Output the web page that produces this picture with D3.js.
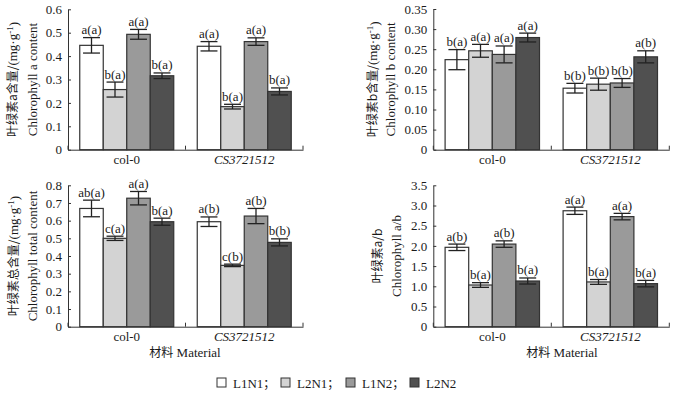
<!DOCTYPE html>
<html lang="zh">
<head>
<meta charset="UTF-8">
<title>Chlorophyll content</title>
<script src="https://d3js.org/d3.v7.min.js"></script>
<style>
  body { margin: 0; background: #fff; }
  svg { display: block; }
  text { font-family: "Liberation Serif", "Times New Roman", serif; font-size: 13px; fill: #1a1a1a; }
  .zh { font-family: "Noto Sans CJK SC", sans-serif; font-size: 12px; }
  .axis path, .axis line { stroke: #333; }
</style>
</head>
<body>
<svg id="chart" width="677" height="393"></svg>
<script>
// groups and treatments
const groups = ["col-0", "CS3721512"];
const series = ["L1N1", "L2N1", "L1N2", "L2N2"];
const colors = ["#ffffff", "#d3d3d3", "#9a9a9a", "#505050"];

// Chlorophyll a
const chlA = [[0.446, 0.257, 0.493, 0.316], [0.442, 0.184, 0.462, 0.249]];
const chlAErr = [[0.033, 0.032, 0.021, 0.012], [0.020, 0.010, 0.016, 0.015]];
const chlALetters = [["a(a)", "b(a)", "a(a)", "b(a)"], ["a(a)", "b(a)", "a(a)", "b(a)"]];
const chlATicks = ["0", "0.1", "0.2", "0.3", "0.4", "0.5", "0.6"];

// Chlorophyll b
const chlB = [[0.224, 0.246, 0.237, 0.279], [0.153, 0.163, 0.166, 0.231]];
const chlBErr = [[0.025, 0.016, 0.021, 0.011], [0.012, 0.015, 0.011, 0.015]];
const chlBLetters = [["b(a)", "a(a)", "a(a)", "a(a)"], ["b(b)", "b(b)", "b(b)", "a(b)"]];
const chlBTicks = ["0", "0.05", "0.10", "0.15", "0.20", "0.25", "0.30", "0.35"];

// total chlorophyll
const chlT = [[0.669, 0.500, 0.727, 0.594], [0.594, 0.347, 0.626, 0.477]];
const chlTErr = [[0.047, 0.012, 0.038, 0.020], [0.027, 0.007, 0.043, 0.020]];
const chlTLetters = [["ab(a)", "c(a)", "a(a)", "b(a)"], ["a(b)", "c(b)", "a(b)", "b(b)"]];
const chlTTicks = ["0", "0.1", "0.2", "0.3", "0.4", "0.5", "0.6", "0.7", "0.8"];

// ratio a/b
const chlAB = [[1.965, 1.032, 2.045, 1.131], [2.870, 1.108, 2.725, 1.066]];
const chlABErr = [[0.080, 0.058, 0.080, 0.075], [0.090, 0.060, 0.080, 0.080]];
const chlABLetters = [["a(b)", "b(a)", "a(b)", "b(a)"], ["a(a)", "b(a)", "a(a)", "b(a)"]];
const chlABTicks = ["0", "0.5", "1.0", "1.5", "2.0", "2.5", "3.0", "3.5"];

const panels = [
  { x0: 68, x1: 303, y0: 9.3, y1: 149.7, vals: chlA, err: chlAErr, letters: chlALetters, ticks: chlATicks,
    zh: "叶绿素a含量/", en: "Chlorophyll a content", zhX: -56, enX: -36, unit: true, title: false },
  { x0: 433.3, x1: 669.3, y0: 9, y1: 149.7, vals: chlB, err: chlBErr, letters: chlBLetters, ticks: chlBTicks,
    zh: "叶绿素b含量/", en: "Chlorophyll b content", zhX: -61, enX: -43, unit: true, title: false },
  { x0: 68, x1: 303, y0: 185.3, y1: 326.7, vals: chlT, err: chlTErr, letters: chlTLetters, ticks: chlTTicks,
    zh: "叶绿素总含量/", en: "Chlorophyll total content", zhX: -55, enX: -36, unit: true, title: true, titleX: 185 },
  { x0: 433.3, x1: 669.3, y0: 185.3, y1: 326.7, vals: chlAB, err: chlABErr, letters: chlABLetters, ticks: chlABTicks,
    zh: "叶绿素a/b", en: "Chlorophyll a/b", zhX: -56, enX: -37, unit: false, title: true, titleX: 562 }
];

const svg = d3.select("#chart");

panels.forEach(p => {
  const w = p.x1 - p.x0, h = p.y1 - p.y0;
  const g = svg.append("g").attr("transform", `translate(${p.x0},${p.y0})`);
  const tickVals = p.ticks.map(Number);

  const x = d3.scaleBand().domain(groups).range([0, w]).paddingInner(0.2).paddingOuter(0.1);
  const xs = d3.scaleBand().domain(series).range([0, x.bandwidth()]);
  const y = d3.scaleLinear().domain([0, d3.max(tickVals)]).range([h, 0]);

  // bars
  groups.forEach((grp, gi) => {
    const gg = g.append("g").attr("transform", `translate(${x(grp)},0)`);
    const rows = series.map((s, si) => ({ s, si, v: p.vals[gi][si], e: p.err[gi][si], lab: p.letters[gi][si] }));

    gg.selectAll("rect").data(rows).enter().append("rect")
      .attr("x", d => xs(d.s))
      .attr("y", d => y(d.v))
      .attr("width", xs.bandwidth())
      .attr("height", d => h - y(d.v))
      .attr("fill", d => colors[d.si])
      .attr("stroke", "#333")
      .attr("stroke-width", 1.2);

    const cap = xs.bandwidth() * 0.36;
    const eb = gg.selectAll(".err").data(rows).enter().append("g").attr("class", "err")
      .attr("stroke", "#222").attr("stroke-width", 1.3);
    eb.append("line")
      .attr("x1", d => xs(d.s) + xs.bandwidth() / 2).attr("x2", d => xs(d.s) + xs.bandwidth() / 2)
      .attr("y1", d => y(d.v - d.e)).attr("y2", d => y(d.v + d.e));
    eb.append("line")
      .attr("x1", d => xs(d.s) + xs.bandwidth() / 2 - cap).attr("x2", d => xs(d.s) + xs.bandwidth() / 2 + cap)
      .attr("y1", d => y(d.v + d.e)).attr("y2", d => y(d.v + d.e));
    eb.append("line")
      .attr("x1", d => xs(d.s) + xs.bandwidth() / 2 - cap).attr("x2", d => xs(d.s) + xs.bandwidth() / 2 + cap)
      .attr("y1", d => y(d.v - d.e)).attr("y2", d => y(d.v - d.e));

    gg.selectAll(".lab").data(rows).enter().append("text")
      .attr("x", d => xs(d.s) + xs.bandwidth() / 2)
      .attr("y", d => y(d.v + d.e) - 3.5)
      .attr("text-anchor", "middle")
      .text(d => d.lab);
  });

  // y axis, ticks inward
  g.append("g").attr("class", "axis")
    .call(d3.axisLeft(y).tickValues(tickVals).tickSizeInner(-3).tickSizeOuter(0).tickPadding(6)
      .tickFormat((d, i) => p.ticks[i]))
    .attr("font-family", null).attr("font-size", null);

  // x axis: labels only, boundary ticks drawn separately
  const xa = g.append("g").attr("class", "axis").attr("transform", `translate(0,${h})`)
    .call(d3.axisBottom(x).tickSize(0).tickPadding(5))
    .attr("font-family", null).attr("font-size", null);
  xa.selectAll(".tick text").filter(d => d === "CS3721512").style("font-style", "italic");
  const bounds = [0].concat(groups.map((d, i) => (i + 1) * x.step()));
  xa.selectAll(".bound").data(bounds).enter().append("line")
    .attr("x1", d => d).attr("x2", d => d).attr("y1", 0).attr("y2", -4)
    .attr("stroke", "#333");

  // y titles
  const zh = g.append("text")
    .attr("transform", `translate(${p.zhX},${h / 2}) rotate(-90)`)
    .attr("dy", "0.35em").attr("text-anchor", "middle");
  zh.append("tspan").attr("class", "zh").text(p.zh);
  if (p.unit) {
    zh.append("tspan").text("(mg·g");
    zh.append("tspan").attr("dy", "-0.45em").style("font-size", "9px").text("-1");
    zh.append("tspan").attr("dy", "0.45em").text(")");
  }
  g.append("text")
    .attr("transform", `translate(${p.enX},${h / 2}) rotate(-90)`)
    .attr("dy", "0.35em").attr("text-anchor", "middle")
    .text(p.en);

  if (p.title) {
    const t = svg.append("text").attr("x", p.titleX).attr("y", 357).attr("text-anchor", "middle");
    t.append("tspan").attr("class", "zh").text("材料");
    t.append("tspan").text(" Material");
  }
});

// legend
const legX = [217, 281, 346, 410];
const leg = svg.append("g").attr("transform", "translate(0,383)");
series.forEach((s, i) => {
  leg.append("rect").attr("x", legX[i]).attr("y", -5).attr("width", 9).attr("height", 9)
    .attr("fill", colors[i]).attr("stroke", "#333").attr("stroke-width", 1);
  const t = leg.append("text").attr("x", legX[i] + 16).attr("y", 4.5).text(s);
  if (i < series.length - 1) t.append("tspan").attr("class", "zh").text("；");
});
</script>
</body>
</html>
